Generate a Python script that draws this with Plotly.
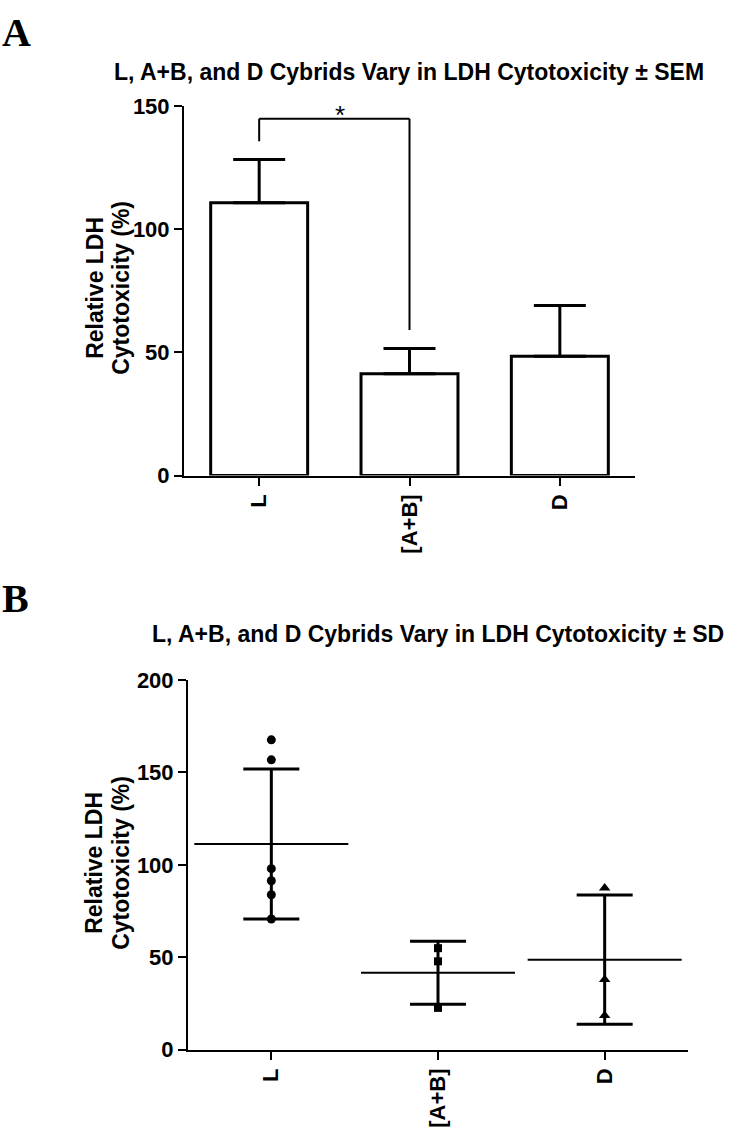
import plotly.graph_objects as go

W, H = 733, 1136

categories = ["L", "[A+B]", "D"]

# Panel A: bar means and SEM
sem_mean = [110.7, 41.3, 48.4]
sem_err = [17.5, 10.3, 20.6]

# Panel B: individual values, means, SD
pts_L = [167.6, 156.8, 97.9, 91.4, 83.8, 70.7]
pts_AB = [54.9, 47.8, 22.6]
pts_D = [87.5, 37.9, 18.5]
sd_mean = [111.3, 41.6, 48.7]
sd_err = [40.6, 17.0, 35.0]

# significance bracket (data units)
bracket_low_left = 135.7
bracket_top = 144.8
bracket_low_right = 59.1

ticks_A = [0, 50, 100, 150]
ticks_B = [0, 50, 100, 150, 200]

FONT = "Liberation Sans"
BLACK = "#000000"


def px(x):
    return x / W


def py(y):
    return 1 - y / H


fig = go.Figure()

# Panel A bars
fig.add_trace(go.Bar(
    x=categories, y=sem_mean, width=0.645,
    marker=dict(color="white", line=dict(color=BLACK, width=3)),
    error_y=dict(type="data", array=sem_err, arrayminus=[0] * 3, symmetric=False,
                 color=BLACK, thickness=3, width=26),
    xaxis="x", yaxis="y", showlegend=False, hoverinfo="skip",
))

# Panel B: SD bars and mean line
fig.add_trace(go.Scatter(
    x=categories, y=sd_mean, mode="markers",
    marker=dict(symbol="line-ew", size=110, color=BLACK, line=dict(color=BLACK, width=2)),
    error_y=dict(type="data", array=sd_err, symmetric=True, color=BLACK, thickness=3, width=28),
    xaxis="x2", yaxis="y2", showlegend=False, hoverinfo="skip",
))

for cat, pts, sym, size in [("L", pts_L, "circle", 9), ("[A+B]", pts_AB, "square", 8),
                            ("D", pts_D, "triangle-up", 10)]:
    fig.add_trace(go.Scatter(
        x=[cat] * len(pts), y=pts, mode="markers",
        marker=dict(symbol=sym, size=size, color=BLACK, line=dict(width=0)),
        xaxis="x2", yaxis="y2", showlegend=False, hoverinfo="skip",
    ))

# bracket
for x0, y0, x1, y1 in [(0, bracket_low_left, 0, bracket_top),
                       (0, bracket_top, 1, bracket_top),
                       (1, bracket_top, 1, bracket_low_right)]:
    fig.add_shape(type="line", xref="x", yref="y", x0=x0, y0=y0, x1=x1, y1=y1,
                  line=dict(color=BLACK, width=2))

tickfont = dict(family=FONT, size=22, color=BLACK, weight="bold")
common_x = dict(type="category", showline=True, linecolor=BLACK, linewidth=2,
                ticks="outside", ticklen=8, tickwidth=2, tickcolor=BLACK,
                tickangle=-90, tickfont=tickfont, showgrid=False, zeroline=False,
                range=[-0.5, 2.5], fixedrange=True)
common_y = dict(showline=True, linecolor=BLACK, linewidth=2,
                ticks="outside", ticklen=8, tickwidth=2, tickcolor=BLACK,
                tickfont=tickfont, showgrid=False, zeroline=False, fixedrange=True)

annotations = []


def ann(text, x, y, size=23, angle=0, family=FONT, xanchor="center", yanchor="middle", **kw):
    annotations.append(dict(text=text, x=x, y=y, xref="paper", yref="paper",
                            showarrow=False, textangle=angle,
                            xanchor=xanchor, yanchor=yanchor,
                            font=dict(family=family, size=size, color=BLACK, weight="bold"), **kw))


ann("A", 0, 1, size=40, family="Liberation Serif", xanchor="left", yanchor="top", yshift=4)
ann("B", 0, py(600), size=40, family="Liberation Serif", xanchor="left")
ann("L, A+B, and D Cybrids Vary in LDH Cytotoxicity ± SEM", px(409), py(61))
ann("L, A+B, and D Cybrids Vary in LDH Cytotoxicity ± SD", px(438), py(636))
ann("Relative LDH", px(95), py(282), angle=-90)
ann("Cytotoxicity (%)", px(121), py(282), angle=-90)
ann("Relative LDH", px(94), py(870), angle=-90)
ann("Cytotoxicity (%)", px(121), py(870), angle=-90)

annotations.append(dict(text="*", x=0.54, y=bracket_top, xref="x", yref="y",
                        showarrow=False, yanchor="bottom", yshift=-13,
                        font=dict(family=FONT, size=26, color=BLACK)))

fig.update_layout(
    width=W, height=H,
    margin=dict(l=0, r=0, t=0, b=0),
    paper_bgcolor="white", plot_bgcolor="white",
    xaxis=dict(domain=[px(184), px(635)], anchor="y", **common_x),
    yaxis=dict(domain=[py(474), py(96)], anchor="x", range=[0, 150],
               tickvals=ticks_A, **common_y),
    xaxis2=dict(domain=[px(188), px(688)], anchor="y2", **common_x),
    yaxis2=dict(domain=[py(1061), py(683)], anchor="x2", range=[0, 200],
                tickvals=ticks_B, **common_y),
    annotations=annotations,
    bargap=0.3,
)

fig.write_html("out.html", config={"displayModeBar": False},
               post_script="document.body.style.margin='0';")
